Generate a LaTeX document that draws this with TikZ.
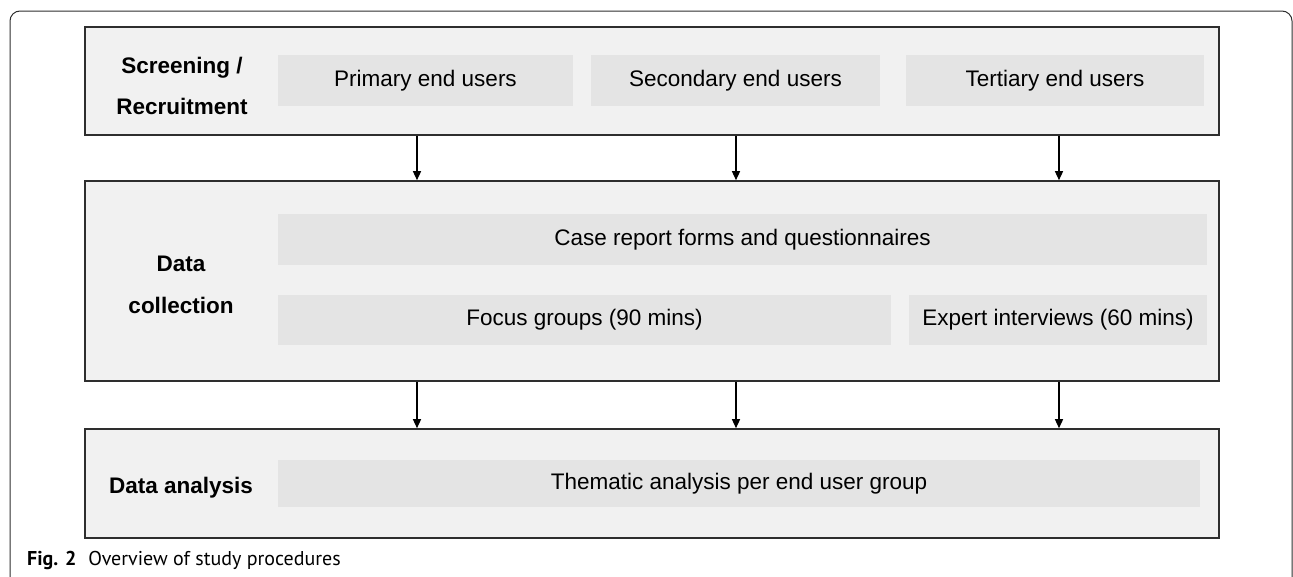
\documentclass[tikz,border=0pt]{standalone}
\usepackage{fontspec}
\setmainfont{Liberation Sans}
\newfontfamily\capfont{PT Sans}
\usetikzlibrary{arrows.meta}
\definecolor{stagefill}{HTML}{F1F1F1}
\definecolor{innerfill}{HTML}{E4E4E4}
\definecolor{edge}{HTML}{2E2E2E}
\tikzset{
  stagebox/.style={draw=edge, line width=1.6pt, fill=stagefill, inner sep=0pt, minimum width=1134pt},
  innerbox/.style={fill=innerfill, inner sep=0pt, minimum height=51pt, font=\fontsize{22.5}{27}\selectfont},
  stagelabel/.style={inner sep=0pt, align=center, font=\fontsize{22.5}{41}\selectfont\bfseries},
  flow/.style={draw=black, line width=1.4pt, -{Triangle[length=9pt,width=8pt]}},
}
\begin{document}
\begin{tikzpicture}[x=1pt,y=-1pt]
\useasboundingbox (0,0) rectangle (1293,576);
% outer frame
\draw[draw=edge, line width=1pt, rounded corners=10pt] (10,586) -- (10,11) -- (1292,11) -- (1292,586);

% stage boxes
\node[stagebox, minimum height=108pt] (s1) at (652,81) {};
\node[stagebox, minimum height=200pt] (s2) at (652,281) {};
\node[stagebox, minimum height=109pt] (s3) at (652,483.5) {};

% stage labels
\node[stagelabel, font=\fontsize{22.5}{41}\selectfont\bfseries] (l1) at (182,86) {Screening /\\Recruitment};
\node[stagelabel, font=\fontsize{22.5}{42}\selectfont\bfseries] (l2) at (181,285) {Data\\collection};
\node[stagelabel] (l3) at (181,488) {Data analysis};

% inner boxes
\node[innerbox, minimum width=295pt] (p) at (425.5,80.5) {Primary end users};
\node[innerbox, minimum width=289pt] (s) at (735.5,80.5) {Secondary end users};
\node[innerbox, minimum width=298pt] (t) at (1055,80.5) {Tertiary end users};
\node[innerbox, minimum width=929pt] (c) at (742.5,239.5) {Case report forms and questionnaires};
\node[innerbox, minimum width=613pt, minimum height=50pt] (f) at (584.5,320) {Focus groups (90 mins)};
\node[innerbox, minimum width=298pt, minimum height=50pt] (e) at (1058,320) {Expert interviews (60 mins)};
\node[innerbox, minimum width=922pt, minimum height=47pt] (th) at (739,483.5) {Thematic analysis per end user group};

% arrow columns
\coordinate (a1) at (417,0);
\coordinate (a2) at (736,0);
\coordinate (a3) at (1059,0);
\foreach \a in {a1,a2,a3}{
  \draw[flow] (s1.south -| \a) -- (s2.north -| \a);
  \draw[flow] (s2.south -| \a) -- (s3.north -| \a);
}

% caption
\node[anchor=base west, inner sep=0pt, font=\capfont\fontsize{20}{24}\selectfont] (cap) at (27,565) {\textbf{Fig. 2}\hspace{0.6em}Overview of study procedures};
\end{tikzpicture}
\end{document}
